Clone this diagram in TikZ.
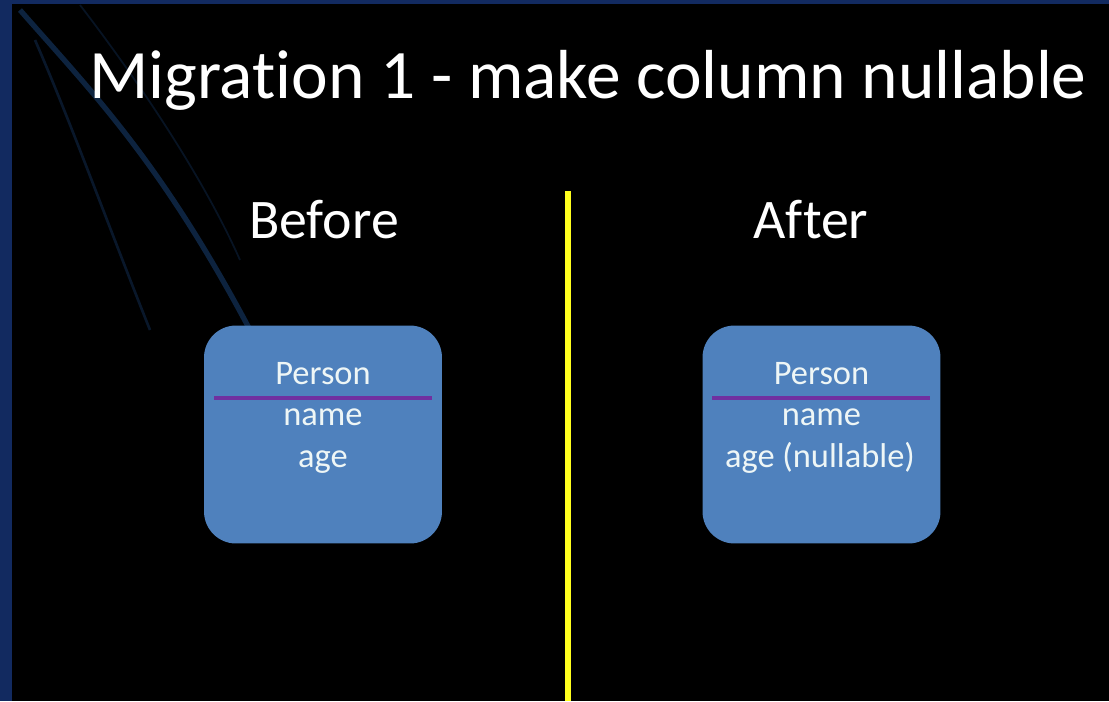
\documentclass[tikz,border=0pt]{standalone}
\usepackage{fontspec}
\setmainfont{Carlito}[Ligatures=NoCommon]
\usetikzlibrary{positioning}

\definecolor{frameblue}{HTML}{122A60}
\definecolor{streakblue}{HTML}{1E4F8C}
\definecolor{boxblue}{HTML}{4F81BD}
\definecolor{rulepurple}{HTML}{7030A0}
\definecolor{divyellow}{HTML}{FFFF1E}
\definecolor{fieldtext}{HTML}{EEF6F6}

\begin{document}
\begin{tikzpicture}[x=0.02cm, y=-0.02cm,
	entity/.style={fill=boxblue, rounded corners=0.64cm, minimum width=4.76cm, minimum height=4.36cm, inner sep=0pt},
	field/.style={text=fieldtext, anchor=base, inner sep=0pt, font=\fontsize{19.6}{22}\selectfont},
	heading/.style={text=white, anchor=base, inner sep=0pt, font=\fontsize{31.8}{36}\selectfont},
	divider/.style={rulepurple, line width=2.2pt}]

	% slide background with its dark blue frame
	\fill[frameblue] (0,0) rectangle (1109,701);
	\fill[black] (12,4) rectangle (1109,701);
	\useasboundingbox (0,0) rectangle (1109,701);

	% faint light streaks in the upper left corner
	\draw[streakblue, line width=3pt, opacity=0.45] (20,10) .. controls (90,90) and (160,160) .. (250,330);
	\draw[streakblue, line width=1.5pt, opacity=0.3] (35,40) .. controls (70,120) and (110,230) .. (150,330);
	\draw[streakblue, line width=1pt, opacity=0.25] (80,5) .. controls (130,70) and (200,170) .. (240,260);

	% title
	\node[text=white, anchor=base, inner sep=0pt, font=\fontsize{39.5}{46}\selectfont] (title) at (588,98) {Migration 1 - make column nullable};

	% column headings
	\node[heading] (before) at (324,238) {Before};
	\node[heading] (after) at (811,238) {After};

	% yellow line between the two halves
	\coordinate (divtop) at (567.5,191);
	\coordinate (divbot) at (567.5,701);
	\draw[divyellow, line width=0.12cm] (divtop) -- (divbot);

	% table before the migration
	\node[entity] (boxBefore) at (323,434.5) {};
	\node[field] (personBefore) at (323,384) {Person};
	\node[field] (nameBefore) at (323,425) {name};
	\node[field] (ageBefore) at (323,467) {age};
	\draw[divider] (214,398) -- (432,398);

	% table after the migration
	\node[entity] (boxAfter) at (821.5,434.5) {};
	\node[field] (personAfter) at (821.5,384) {Person};
	\node[field] (nameAfter) at (821.5,425) {name};
	\node[field] (ageAfter) at (820,467) {age (nullable)};
	\draw[divider] (712,398) -- (930,398);

\end{tikzpicture}
\end{document}
